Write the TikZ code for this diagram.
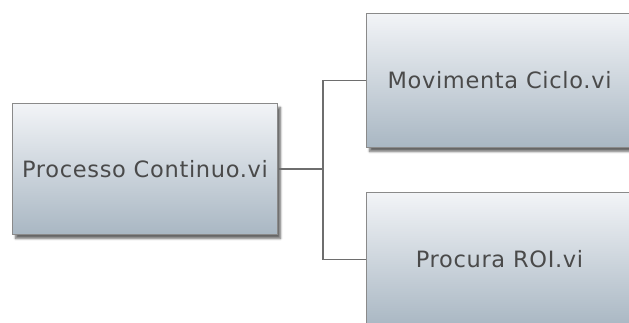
\documentclass[tikz,border=0pt]{standalone}
\usepackage{fontspec}
\setmainfont{DejaVu Sans}[LetterSpace=3]
\usetikzlibrary{shadows.blur}
\definecolor{boxtop}{HTML}{F2F4F7}
\definecolor{boxbot}{HTML}{A9B7C3}
\definecolor{boxline}{HTML}{8A8A8A}
\definecolor{txt}{HTML}{4A4A4A}
\definecolor{conn}{HTML}{6E6E6E}
\tikzset{
  vibox/.style={draw=boxline, line width=1pt, top color=boxtop, bottom color=boxbot,
    blur shadow={shadow xshift=3pt, shadow yshift=-4pt, shadow blur steps=6, shadow opacity=60},
    inner sep=0pt, text=txt, font=\fontsize{22.5}{26}\selectfont},
  link/.style={draw=conn, line width=1.2pt}
}
\begin{document}
\begin{tikzpicture}[x=1pt,y=1pt]
\useasboundingbox (0,0) rectangle (629,323);
\node[vibox, minimum width=265pt, minimum height=131pt, anchor=north west] (main) at (12,220) {Processo Continuo.vi};
\node[vibox, minimum width=266pt, minimum height=134pt, anchor=north west] (mov) at (366,310) {Movimenta Ciclo.vi};
\node[vibox, minimum width=266pt, minimum height=134pt, anchor=north west] (roi) at (366,131) {Procura ROI.vi};
\coordinate (j) at (main.east -| 323,0);
\draw[link] (main.east) -- (j) |- (mov.west);
\draw[link] (j) |- (roi.west);
\end{tikzpicture}
\end{document}
